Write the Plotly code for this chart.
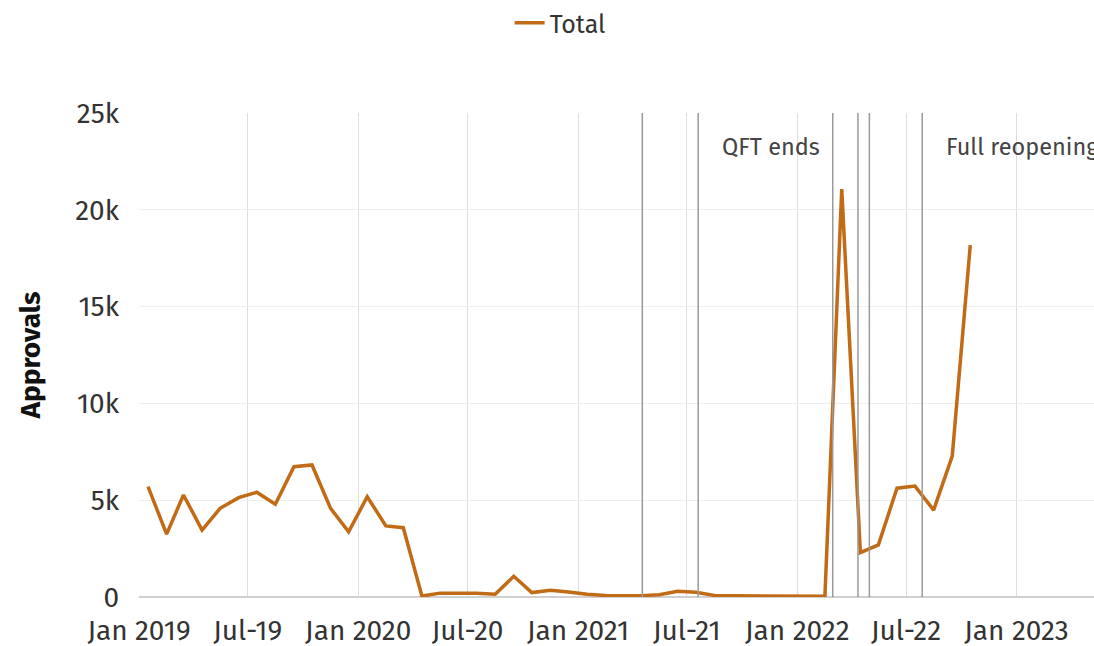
import plotly.graph_objects as go
import pandas as pd

# monthly approvals, Jan 2019 - Oct 2022 (plotted mid-month)
months = pd.date_range("2019-01-01", periods=46, freq="MS") + pd.Timedelta(days=15)
approvals = [
    5700, 3250, 5270, 3460, 4580, 5130, 5410, 4790, 6730, 6820, 4580, 3370,
    5180, 3670, 3580, 50, 200, 200, 200, 140, 1070, 230, 350, 260,
    140, 80, 70, 70, 120, 300, 250, 80, 60, 60, 60, 60,
    50, 40, 21070, 2290, 2690, 5620, 5730, 4490, 7280, 18180,
]

tick_dates = ["2019-01-01", "2019-07-01", "2020-01-01", "2020-07-01", "2021-01-01",
              "2021-07-01", "2022-01-01", "2022-07-01", "2023-01-01"]
tick_labels = ["Jan 2019", "Jul-19", "Jan 2020", "Jul-20", "Jan 2021",
               "Jul-21", "Jan 2022", "Jul-22", "Jan 2023"]

event_dates = ["2021-04-18", "2021-07-20", "2022-03-01", "2022-04-12", "2022-05-01", "2022-07-28"]
event_labels = {"2021-07-20": "QFT ends", "2022-07-28": "Full reopening"}

FONT = "Fira Sans, Noto Sans, sans-serif"

fig = go.Figure()
fig.add_trace(go.Scatter(
    x=months, y=approvals, mode="lines", name="Total",
    line=dict(color="#c26b17", width=3.5),
))

for d in event_dates:
    fig.add_shape(type="line", xref="x", yref="paper", x0=d, x1=d, y0=0, y1=1,
                  line=dict(color="#9a9a9a", width=1.5), layer="above")
    if d in event_labels:
        fig.add_annotation(x=d, y=0.963, xref="x", yref="paper", text=event_labels[d],
                           showarrow=False, xanchor="left", xshift=22,
                           font=dict(family=FONT, size=23.5, color="#444"))

fig.update_layout(
    width=1094, height=646,
    margin=dict(l=139, r=0, t=113, b=49, autoexpand=False),
    plot_bgcolor="white", paper_bgcolor="white",
    font=dict(family=FONT, size=28, color="#333"),
    showlegend=True,
    legend=dict(orientation="h", xref="container", x=0.512, xanchor="center",
                yref="container", y=1.0, yanchor="top", font=dict(size=25, color="#333")),
)
fig.update_xaxes(
    range=["2019-01-01", "2023-05-10"],
    tickvals=tick_dates, ticktext=tick_labels, tickangle=0,
    showgrid=True, gridcolor="#dedede", gridwidth=1,
    showline=False, zeroline=False, ticks="", ticklabelstandoff=14,
)
fig.update_yaxes(
    range=[0, 25000], tickvals=[0, 5000, 10000, 15000, 20000, 25000],
    ticktext=["0", "5k", "10k", "15k", "20k", "25k"],
    showgrid=True, gridcolor="#efefef", gridwidth=1,
    zeroline=True, zerolinecolor="#d0d0d0", zerolinewidth=2,
    ticks="", ticklabelstandoff=19,
    title=dict(text="<b>Approvals</b>", font=dict(size=28, color="#111"), standoff=26),
)

# drop the page's default body margin so the figure fills the window
fig.write_html("out.html", config={"displayModeBar": False},
               post_script="document.body.style.margin='0';"
               "document.documentElement.style.overflow='hidden';")
